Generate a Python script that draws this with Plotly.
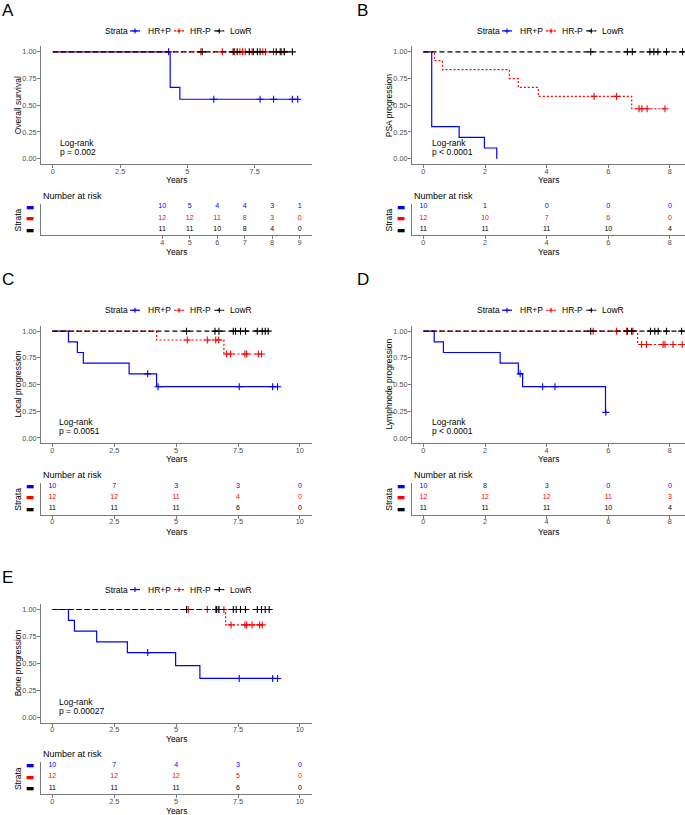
import plotly.graph_objects as go

W, H = 685, 815
FONT = "Liberation Sans, Arial, sans-serif"

# ---------------- data ----------------
strata_names = ["HR+P", "HR-P", "LowR"]
strata_colors = ["#0000FF", "#FF0000", "#000000"]
strata_dash = ["solid", "2px,2px", "5px,3px"]

# Panel A - Overall survival
A_hrp_event_t = [4.36, 4.72]
A_hrp_event_s = [0.667, 0.556]
A_hrp_cens = [4.30, 5.98, 7.70, 8.20, 8.90, 9.10]
A_hrn_event_t = []
A_hrn_event_s = []
A_hrn_cens = [5.50, 6.30, 6.75, 6.95, 7.05, 7.15, 7.40, 7.80, 7.90, 8.20, 8.50, 8.60]
A_low_event_t = []
A_low_event_s = []
A_low_cens = [5.55, 6.70, 6.85, 7.30, 7.45, 7.60, 7.70, 8.30, 8.45, 8.60, 8.90]
A_risk_times = [4, 5, 6, 7, 8, 9]
A_risk_hrp = [10, 5, 4, 4, 3, 1]
A_risk_hrn = [12, 12, 11, 8, 3, 0]
A_risk_low = [11, 11, 10, 8, 4, 0]
A_xticks = [0, 2.5, 5, 7.5]
A_ylabel = "Overall survival"
A_pval = "p = 0.002"

# Panel B - PSA progression
B_hrp_event_t = [0.27, 1.16, 1.98, 2.38]
B_hrp_event_s = [0.30, 0.20, 0.10, 0.0]
B_hrp_cens = []
B_hrn_event_t = [0.36, 0.62, 2.79, 3.08, 3.73, 6.76]
B_hrn_event_s = [0.917, 0.833, 0.750, 0.667, 0.583, 0.467]
B_hrn_cens = [5.54, 6.27, 7.00, 7.09, 7.26, 7.84]
B_low_event_t = []
B_low_event_s = []
B_low_cens = [5.43, 6.62, 6.78, 7.35, 7.48, 7.61, 7.89, 8.41, 8.70, 8.90, 9.10]
B_risk_times = [0, 2, 4, 6, 8]
B_risk_hrp = [10, 1, 0, 0, 0]
B_risk_hrn = [12, 10, 7, 6, 0]
B_risk_low = [11, 11, 11, 10, 4]
B_xticks = [0, 2, 4, 6, 8]
B_ylabel = "PSA progression"
B_pval = "p < 0.0001"

# Panel C - Local progression
C_hrp_event_t = [0.65, 1.01, 1.25, 3.10, 4.21]
C_hrp_event_s = [0.90, 0.80, 0.70, 0.60, 0.48]
C_hrp_cens = [3.85, 4.27, 7.55, 8.90, 9.10]
C_hrn_event_t = [4.21, 6.93]
C_hrn_event_s = [0.917, 0.786]
C_hrn_cens = [5.45, 6.26, 6.60, 6.72, 7.04, 7.20, 7.78, 7.85, 8.32, 8.45]
C_low_event_t = []
C_low_event_s = []
C_low_cens = [5.42, 6.57, 6.73, 7.31, 7.40, 7.60, 7.80, 8.28, 8.48, 8.60, 8.72]
C_risk_times = [0, 2.5, 5, 7.5, 10]
C_risk_hrp = [10, 7, 3, 3, 0]
C_risk_hrn = [12, 12, 11, 4, 0]
C_risk_low = [11, 11, 11, 6, 0]
C_xticks = [0, 2.5, 5, 7.5, 10]
C_ylabel = "Local progression"
C_pval = "p = 0.0051"

# Panel D - Lymphnode progression
D_hrp_event_t = [0.35, 0.65, 2.49, 3.08, 3.22, 5.91]
D_hrp_event_s = [0.90, 0.80, 0.70, 0.60, 0.48, 0.24]
D_hrp_cens = [3.14, 3.87, 4.27, 5.92]
D_hrn_event_t = [6.95]
D_hrn_event_s = [0.875]
D_hrn_cens = [5.51, 6.27, 6.60, 6.80, 7.08, 7.24, 7.78, 7.84, 8.10, 8.40, 8.60]
D_low_event_t = []
D_low_event_s = []
D_low_cens = [5.43, 6.62, 6.76, 7.37, 7.51, 7.62, 7.89, 8.38, 8.60, 8.80, 9.00]
D_risk_times = [0, 2, 4, 6, 8]
D_risk_hrp = [10, 8, 3, 0, 0]
D_risk_hrn = [12, 12, 12, 11, 3]
D_risk_low = [11, 11, 11, 10, 4]
D_xticks = [0, 2, 4, 6, 8]
D_ylabel = "Lymphnode progression"
D_pval = "p < 0.0001"

# Panel E - Bone progression
E_hrp_event_t = [0.65, 0.89, 1.79, 3.03, 4.98, 5.96]
E_hrp_event_s = [0.90, 0.80, 0.70, 0.60, 0.48, 0.36]
E_hrp_cens = [3.85, 7.55, 8.90, 9.10]
E_hrn_event_t = [7.00]
E_hrn_event_s = [0.857]
E_hrn_cens = [5.49, 6.26, 6.60, 6.70, 6.93, 7.22, 7.78, 7.85, 8.07, 8.37, 8.48]
E_low_event_t = []
E_low_event_s = []
E_low_cens = [5.42, 6.63, 6.73, 7.31, 7.43, 7.60, 7.80, 8.28, 8.45, 8.60, 8.76]
E_risk_times = [0, 2.5, 5, 7.5, 10]
E_risk_hrp = [10, 7, 4, 3, 0]
E_risk_hrn = [12, 12, 12, 5, 0]
E_risk_low = [11, 11, 11, 6, 0]
E_xticks = [0, 2.5, 5, 7.5, 10]
E_ylabel = "Bone progression"
E_pval = "p = 0.00027"

y_ticks = [0, 0.25, 0.5, 0.75, 1.0]
y_ticklabels = ["0.00", "0.25", "0.50", "0.75", "1.00"]

# ---------------- layout geometry (pixels) ----------------
panels = [
    dict(letter="A", letter_xy=(8, 9), xdom=(41, 312), ymain=(44.6, 162.4), yrisk=(202, 234),
         xr_main=(-0.44, 9.63), xr_risk=(-0.41, 9.45), legend_y=29, years_main=178.5, years_risk=251,
         nar_y=194, ytitle_x=18,
         ev=[(A_hrp_event_t, A_hrp_event_s, A_hrp_cens), (A_hrn_event_t, A_hrn_event_s, A_hrn_cens),
             (A_low_event_t, A_low_event_s, A_low_cens)],
         risk_t=A_risk_times, risk=[A_risk_hrp, A_risk_hrn, A_risk_low], xticks=A_xticks,
         ylabel=A_ylabel, pval=A_pval),
    dict(letter="B", letter_xy=(362, 9), xdom=(412, 685), ymain=(44.6, 162.4), yrisk=(202, 234),
         xr_main=(-0.37, 8.49), xr_risk=(-0.37, 8.49), legend_y=29, years_main=178.5, years_risk=251,
         nar_y=194, ytitle_x=389,
         ev=[(B_hrp_event_t, B_hrp_event_s, B_hrp_cens), (B_hrn_event_t, B_hrn_event_s, B_hrn_cens),
             (B_low_event_t, B_low_event_s, B_low_cens)],
         risk_t=B_risk_times, risk=[B_risk_hrp, B_risk_hrn, B_risk_low], xticks=B_xticks,
         ylabel=B_ylabel, pval=B_pval),
    dict(letter="C", letter_xy=(8, 278), xdom=(41, 312), ymain=(324.6, 442.4), yrisk=(482, 514),
         xr_main=(-0.46, 10.49), xr_risk=(-0.46, 10.49), legend_y=309, years_main=458.5, years_risk=531,
         nar_y=474, ytitle_x=18,
         ev=[(C_hrp_event_t, C_hrp_event_s, C_hrp_cens), (C_hrn_event_t, C_hrn_event_s, C_hrn_cens),
             (C_low_event_t, C_low_event_s, C_low_cens)],
         risk_t=C_risk_times, risk=[C_risk_hrp, C_risk_hrn, C_risk_low], xticks=C_xticks,
         ylabel=C_ylabel, pval=C_pval),
    dict(letter="D", letter_xy=(363, 278), xdom=(412, 685), ymain=(324.6, 442.4), yrisk=(482, 514),
         xr_main=(-0.37, 8.49), xr_risk=(-0.37, 8.49), legend_y=309, years_main=458.5, years_risk=531,
         nar_y=474, ytitle_x=389,
         ev=[(D_hrp_event_t, D_hrp_event_s, D_hrp_cens), (D_hrn_event_t, D_hrn_event_s, D_hrn_cens),
             (D_low_event_t, D_low_event_s, D_low_cens)],
         risk_t=D_risk_times, risk=[D_risk_hrp, D_risk_hrn, D_risk_low], xticks=D_xticks,
         ylabel=D_ylabel, pval=D_pval),
    dict(letter="E", letter_xy=(7, 577), xdom=(41, 312), ymain=(603.6, 722.4), yrisk=(762, 794),
         xr_main=(-0.46, 10.49), xr_risk=(-0.46, 10.49), legend_y=589, years_main=738.5, years_risk=811,
         nar_y=754, ytitle_x=18,
         ev=[(E_hrp_event_t, E_hrp_event_s, E_hrp_cens), (E_hrn_event_t, E_hrn_event_s, E_hrn_cens),
             (E_low_event_t, E_low_event_s, E_low_cens)],
         risk_t=E_risk_times, risk=[E_risk_hrp, E_risk_hrn, E_risk_low], xticks=E_xticks,
         ylabel=E_ylabel, pval=E_pval),
]

# legend element offsets (px) relative to the panel centre
LEG_TITLE_OFF = -73.2
LEG_SYM_OFF = [-41.5, 2.5, 42.8]
LEG_TEXT_OFF = [-30.8, 11.8, 51.8]


def fx(p):
    return p / W


def fy(p):
    return 1 - p / H


def surv_at(t, ev_t, ev_s):
    s = 1.0
    for et, es in zip(ev_t, ev_s):
        if et <= t:
            s = es
    return s


def fmt_tick(v):
    return ("%g" % v)


AX_COL = "#7a7a7a"
TICK_FONT = dict(family=FONT, size=7.3, color="#4d4d4d")
TXT = dict(family=FONT, size=8.5, color="black")

fig = go.Figure()
layout = dict(width=W, height=H, margin=dict(l=0, r=0, t=0, b=0),
              paper_bgcolor="white", plot_bgcolor="white", showlegend=False,
              font=dict(family=FONT, size=9, color="black"))
annotations = []
shapes = []

for i, P in enumerate(panels):
    km = 2 * i + 1
    rk = 2 * i + 2
    xm, ym = "x%d" % km, "y%d" % km
    xr, yr = "x%d" % rk, "y%d" % rk
    kx = "xaxis" if km == 1 else "xaxis%d" % km
    ky = "yaxis" if km == 1 else "yaxis%d" % km

    # KM curves
    for j, (ev_t, ev_s, cens) in enumerate(P["ev"]):
        end = max(list(ev_t) + list(cens))
        xs = [0] + list(ev_t) + [end]
        ys = [1.0] + list(ev_s) + [ev_s[-1] if ev_s else 1.0]
        fig.add_trace(go.Scatter(x=xs, y=ys, mode="lines", line_shape="hv", name=strata_names[j],
                                 line=dict(color=strata_colors[j], width=1.2, dash=strata_dash[j]),
                                 hoverinfo="skip", xaxis=xm, yaxis=ym))
        if cens:
            fig.add_trace(go.Scatter(x=cens, y=[surv_at(c, ev_t, ev_s) for c in cens], mode="markers",
                                     name=strata_names[j] + " censored",
                                     marker=dict(symbol="cross-thin", size=5,
                                                 line=dict(color=strata_colors[j], width=1.1)),
                                     hoverinfo="skip", xaxis=xm, yaxis=ym))
    # risk table
    rows = [3, 2, 1]
    for j in range(3):
        fig.add_trace(go.Scatter(x=P["risk_t"], y=[rows[j]] * len(P["risk_t"]), mode="text",
                                 text=[str(v) for v in P["risk"][j]],
                                 textfont=dict(family=FONT, size=7, color=strata_colors[j]),
                                 hoverinfo="skip", cliponaxis=False,
                                 xaxis=xr, yaxis=yr))

    x0, x1 = P["xdom"]
    cx = (x0 + x1) / 2
    common = dict(showgrid=False, zeroline=False, showline=True, linecolor=AX_COL, linewidth=1,
                  ticks="outside", ticklen=3, tickcolor=AX_COL, tickfont=TICK_FONT)
    layout[kx] = dict(domain=[fx(x0), fx(x1)], range=list(P["xr_main"]), anchor=ym,
                      tickvals=P["xticks"], ticktext=[fmt_tick(v) for v in P["xticks"]],
                      ticklabelstandoff=-3, **common)
    layout[ky] = dict(domain=[fy(P["ymain"][1]), fy(P["ymain"][0])], range=[-0.05, 1.05], anchor=xm,
                      tickvals=y_ticks, ticktext=y_ticklabels, ticklabelstandoff=-1, **common)
    layout["xaxis%d" % rk] = dict(domain=[fx(x0), fx(x1)], range=list(P["xr_risk"]), anchor=yr,
                                  tickvals=P["risk_t"], ticktext=[fmt_tick(v) for v in P["risk_t"]],
                                  ticklabelstandoff=-3, **common)
    layout["yaxis%d" % rk] = dict(domain=[fy(P["yrisk"][1]), fy(P["yrisk"][0])], range=[0.47, 3.27],
                                  anchor=xr, showgrid=False, zeroline=False, showline=True,
                                  linecolor=AX_COL, linewidth=1, ticks="", ticklabelstandoff=4,
                                  tickvals=rows,
                                  ticktext=['<span style="color:%s">▬</span>' % c for c in strata_colors],
                                  tickfont=dict(family="DejaVu Sans", size=9))

    # legend (Strata key) drawn above each panel
    ly = P["legend_y"]
    annotations.append(dict(text="Strata", x=fx(cx + LEG_TITLE_OFF), y=fy(ly), xref="paper", yref="paper",
                            showarrow=False, xanchor="left", yanchor="middle", font=TXT))
    for j in range(3):
        sx = fx(cx + LEG_SYM_OFF[j])
        shapes.append(dict(type="line", xref="paper", yref="paper", xsizemode="pixel", ysizemode="pixel",
                           xanchor=sx, yanchor=fy(ly), x0=-5, x1=5, y0=0, y1=0,
                           line=dict(color=strata_colors[j], width=1.2, dash=strata_dash[j])))
        shapes.append(dict(type="path", xref="paper", yref="paper", xsizemode="pixel", ysizemode="pixel",
                           xanchor=sx, yanchor=fy(ly), path="M-2.5,0 L2.5,0 M0,-2.5 L0,2.5",
                           line=dict(color=strata_colors[j], width=1.1)))
        annotations.append(dict(text=strata_names[j], x=fx(cx + LEG_TEXT_OFF[j]), y=fy(ly), xref="paper",
                                yref="paper", showarrow=False, xanchor="left", yanchor="middle", font=TXT))

    # annotations
    annotations.append(dict(text=P["letter"], x=fx(P["letter_xy"][0]), y=fy(P["letter_xy"][1]),
                            xref="paper", yref="paper", showarrow=False, xanchor="center",
                            yanchor="middle", font=dict(family=FONT, size=17, color="black")))
    annotations.append(dict(text="Log-rank", x=0.2, y=0.145, xref=xm, yref=ym, showarrow=False,
                            xanchor="left", yanchor="middle", font=TXT))
    annotations.append(dict(text=P["pval"], x=0.2, y=0.062, xref=xm, yref=ym, showarrow=False,
                            xanchor="left", yanchor="middle", font=TXT))
    annotations.append(dict(text=P["ylabel"], x=fx(P["ytitle_x"]), y=fy((P["ymain"][0] + P["ymain"][1]) / 2),
                            xref="paper", yref="paper", showarrow=False, textangle=-90,
                            xanchor="center", yanchor="middle", font=TXT))
    annotations.append(dict(text="Years", x=fx(cx), y=fy(P["years_main"]), xref="paper",
                            yref="paper", showarrow=False, xanchor="center", yanchor="middle", font=TXT))
    annotations.append(dict(text="Years", x=fx(cx), y=fy(P["years_risk"]), xref="paper",
                            yref="paper", showarrow=False, xanchor="center", yanchor="middle", font=TXT))
    annotations.append(dict(text="Number at risk", x=fx(x0), y=fy(P["nar_y"]), xref="paper",
                            yref="paper", showarrow=False, xanchor="left", yanchor="middle",
                            font=dict(family=FONT, size=9, color="black")))
    annotations.append(dict(text="Strata", x=fx(P["ytitle_x"]), y=fy((P["yrisk"][0] + P["yrisk"][1]) / 2 + 1),
                            xref="paper", yref="paper", showarrow=False, textangle=-90,
                            xanchor="center", yanchor="middle", font=TXT))

layout["annotations"] = annotations
layout["shapes"] = shapes
fig.update_layout(**layout)
fig.write_html("out.html",
               config={"displayModeBar": False},
               post_script="document.body.style.margin='0px';document.body.style.padding='0px';"
                           "document.body.style.overflow='hidden';")
